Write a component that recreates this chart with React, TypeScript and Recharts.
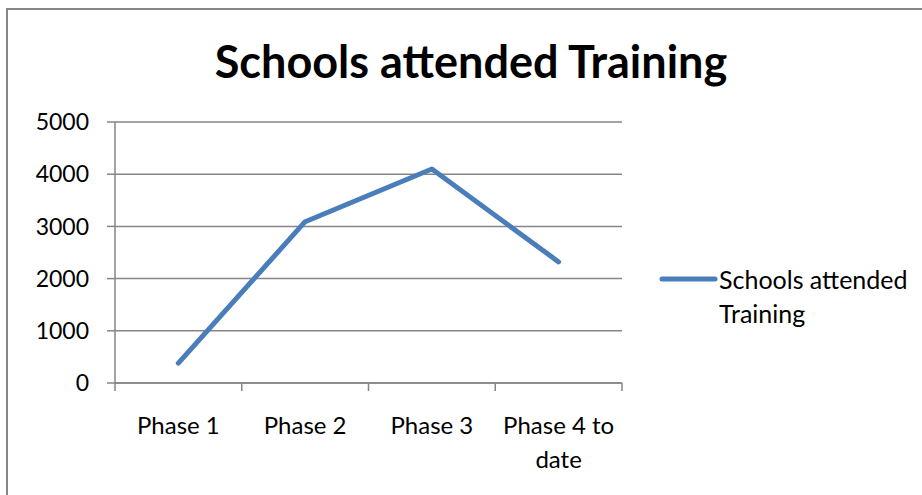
import React from 'react';
import { LineChart, Line, XAxis, YAxis, CartesianGrid, Legend } from 'recharts';

const phases = ['Phase 1', 'Phase 2', 'Phase 3', 'Phase 4 to date'];
const schools = [380, 3090, 4100, 2320];
const yTicks = [0, 1000, 2000, 3000, 4000, 5000];

const seriesName = 'Schools attended Training';
const font = 'Lato, "Open Sans", sans-serif';
const blue = '#4a7ebb';
const grey = '#868686';

const data = phases.map((p, i) => ({ phase: p, value: schools[i] }));

const CHART_W = 916;
const CHART_H = 487;
const LEGEND_W = 260;
const X_H = 30;
// the legend width and x-axis height are added to the offsets by recharts
const margin = { top: 112, right: 302 - LEGEND_W, bottom: 114 - X_H, left: 0 };
const Y_W = 107;
const plotW = 507;
const halfBand = plotW / phases.length / 2;

const PhaseTick = (props: any) => {
  const { x, y, payload, index } = props;
  const words = String(payload.value).split(' ');
  // wrap like Excel: "Phase 4 to" / "date"
  const lines = words.length > 3 ? [words.slice(0, 3).join(' '), words.slice(3).join(' ')] : [payload.value];
  return (
    <g>
      <line x1={x - halfBand} y1={y} x2={x - halfBand} y2={y + 8} stroke={grey} strokeWidth={1.5} />
      {index === phases.length - 1 && (
        <line x1={x + halfBand} y1={y} x2={x + halfBand} y2={y + 8} stroke={grey} strokeWidth={1.5} />
      )}
      {lines.map((l: string, i: number) => (
        <text key={i} x={x} y={y + 43 + i * 34} dy="0.35em" textAnchor="middle" fill="#000" fontSize={24} fontFamily={font}>
          {l}
        </text>
      ))}
    </g>
  );
};

const LegendBox = () => (
  <div style={{ display: 'flex', alignItems: 'flex-start', fontFamily: font, fontSize: 25, lineHeight: '34px', color: '#000' }}>
    <svg width={60} height={34} style={{ flex: 'none' }}>
      <line x1={4} y1={17} x2={57} y2={17} stroke={blue} strokeWidth={5} strokeLinecap="round" />
    </svg>
    <div style={{ marginLeft: 1, whiteSpace: 'nowrap' }}>
      Schools attended
      <br />
      Training
    </div>
  </div>
);

export default function App() {
  return (
    <div style={{ position: 'absolute', left: 6, top: 8, width: 930, height: 500, border: `2px solid ${grey}`, background: '#fff' }}>
      <div
        style={{
          position: 'absolute',
          left: 0,
          top: 24,
          width: CHART_W + 10,
          textAlign: 'center',
          fontFamily: font,
          fontWeight: 700,
          fontSize: 45,
          lineHeight: '54px',
          color: '#000',
        }}
      >
        {seriesName}
      </div>
      <LineChart width={CHART_W} height={CHART_H} data={data} margin={margin}>
        <CartesianGrid vertical={false} stroke={grey} strokeWidth={1.5} />
        <XAxis
          dataKey="phase"
          height={X_H}
          interval={0}
          padding={{ left: halfBand, right: halfBand }}
          axisLine={{ stroke: grey, strokeWidth: 1.5 }}
          tickLine={false}
          tickSize={0}
          tickMargin={0}
          tick={<PhaseTick />}
        />
        <YAxis
          width={Y_W}
          domain={[0, 5000]}
          ticks={yTicks}
          interval={0}
          axisLine={{ stroke: grey, strokeWidth: 1.5 }}
          tickLine={{ stroke: grey, strokeWidth: 1.5 }}
          tickSize={8}
          tickMargin={18}
          tick={{ fill: '#000', fontSize: 23, fontFamily: font }}
        />
        <Legend
          layout="vertical"
          align="right"
          verticalAlign="top"
          content={<LegendBox />}
          wrapperStyle={{ position: 'absolute', left: 650, top: 252, width: LEGEND_W }}
        />
        <Line
          type="linear"
          dataKey="value"
          name={seriesName}
          stroke={blue}
          strokeWidth={5}
          strokeLinecap="round"
          strokeLinejoin="round"
          dot={false}
          activeDot={false}
          isAnimationActive={false}
        />
      </LineChart>
    </div>
  );
}
